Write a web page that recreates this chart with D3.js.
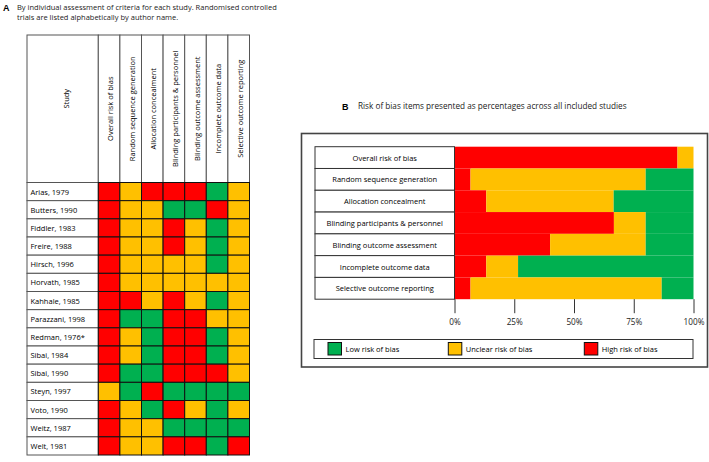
<!DOCTYPE html>
<html>
<head>
<meta charset="utf-8">
<script src="https://cdn.jsdelivr.net/npm/d3@7"></script>
<style>
  body { margin: 0; background: #fff; }
  svg { font-family: "Open Sans", Lato, sans-serif; }
</style>
</head>
<body>
<script>
// --- data -------------------------------------------------------------
const studies = ['Arias, 1979', 'Butters, 1990', 'Fiddler, 1983', 'Freire, 1988', 'Hirsch, 1996',
    'Horvath, 1985', 'Kahhale, 1985', 'Parazzani, 1998', 'Redman, 1976*', 'Sibai, 1984',
    'Sibai, 1990', 'Steyn, 1997', 'Voto, 1990', 'Weitz, 1987', 'Welt, 1981'];

const domains = ['Overall risk of bias', 'Random sequence generation', 'Allocation concealment',
    'Blinding participants & personnel', 'Blinding outcome assessment',
    'Incomplete outcome data', 'Selective outcome reporting'];

// H = high, U = unclear, L = low (one string per study, one letter per domain)
const judgements = ['HUHHHLU', 'HUULLHU', 'HUUHULU', 'HUUHULU', 'HUUUULU',
    'HUUUUUU', 'HHUHULU', 'HLLHHUU', 'HULHHLU', 'HULHHLU',
    'HLLHHHU', 'ULHLLLL', 'HULHULU', 'HUULLLL', 'HUUHHLH'];

// panel B: percentages per item
const highPct = [93.3, 6.7, 13.3, 66.7, 40, 13.3, 6.7];
const unclearPct = [6.7, 73.3, 53.3, 13.3, 40, 13.3, 80];
const lowPct = [0, 20, 33.4, 20, 20, 73.4, 13.3];
const xTicks = [0, 25, 50, 75, 100];

const legendLabels = ['Low risk of bias', 'Unclear risk of bias', 'High risk of bias'];
const colour = { L: '#00b050', U: '#ffc000', H: '#ff0000' };

const fs = 7.5;

// --- svg --------------------------------------------------------------
const svg = d3.select('body').append('svg')
    .attr('width', 709)
    .attr('height', 462);

// ===== panel A =====
svg.append('text').attr('x', 3).attr('y', 11)
    .attr('font-family', 'Liberation Sans, Arial, sans-serif')
    .attr('font-weight', 'bold').attr('font-size', 9).text('A');
svg.append('text').attr('x', 17).attr('y', 10).attr('font-size', fs)
    .attr('fill', '#222')
    .text('By individual assessment of criteria for each study. Randomised controlled');
svg.append('text').attr('x', 17).attr('y', 19.5).attr('font-size', fs)
    .attr('fill', '#222')
    .text('trials are listed alphabetically by author name.');

const tLeft = 27, tStudyRight = 98.3, tRight = 249.5;
const tTop = 35, tHeadBottom = 182.5, tBottom = 455;

const xcol = d3.scaleBand().domain(domains).range([tStudyRight, tRight]);
const yrow = d3.scaleBand().domain(studies).range([tHeadBottom, tBottom]);

const tableA = svg.append('g');

// header cells
tableA.append('rect')
    .attr('x', tLeft).attr('y', tTop)
    .attr('width', tStudyRight - tLeft).attr('height', tHeadBottom - tTop)
    .attr('fill', '#fff').attr('stroke', '#555');
tableA.append('text')
    .attr('transform', `translate(${(tLeft + tStudyRight) / 2 + 3}, ${(tTop + tHeadBottom) / 2 - 10}) rotate(-90)`)
    .attr('text-anchor', 'middle').attr('dominant-baseline', 'central')
    .attr('font-size', fs).text('Study');

tableA.selectAll('rect.head').data(domains).join('rect')
    .attr('class', 'head')
    .attr('x', (d) => xcol(d)).attr('y', tTop)
    .attr('width', xcol.bandwidth()).attr('height', tHeadBottom - tTop)
    .attr('fill', '#fff').attr('stroke', '#555');

tableA.selectAll('text.head').data(domains).join('text')
    .attr('class', 'head')
    .attr('transform', (d) => `translate(${xcol(d) + xcol.bandwidth() / 2 + 1}, ${(tTop + tHeadBottom) / 2}) rotate(-90)`)
    .attr('text-anchor', 'middle').attr('dominant-baseline', 'central')
    .attr('font-size', fs).text((d) => d);

// study label cells
tableA.selectAll('rect.study').data(studies).join('rect')
    .attr('class', 'study')
    .attr('x', tLeft).attr('y', (d) => yrow(d))
    .attr('width', tStudyRight - tLeft).attr('height', yrow.bandwidth())
    .attr('fill', '#fff').attr('stroke', '#555');

tableA.selectAll('text.study').data(studies).join('text')
    .attr('class', 'study')
    .attr('x', tLeft + 3.5).attr('y', (d) => yrow(d) + yrow.bandwidth() / 2)
    .attr('dominant-baseline', 'central')
    .attr('font-size', fs).text((d) => d);

// judgement cells
const cells = [];
studies.forEach((s, i) => {
    domains.forEach((dm, j) => {
        cells.push({ study: s, domain: dm, code: judgements[i][j] });
    });
});

tableA.selectAll('rect.cell').data(cells).join('rect')
    .attr('class', 'cell')
    .attr('x', (d) => xcol(d.domain)).attr('y', (d) => yrow(d.study))
    .attr('width', xcol.bandwidth()).attr('height', yrow.bandwidth())
    .attr('fill', (d) => colour[d.code])
    .attr('stroke', '#111').attr('stroke-width', 1);

// ===== panel B =====
svg.append('text').attr('x', 342).attr('y', 110)
    .attr('font-family', 'Liberation Sans, Arial, sans-serif')
    .attr('font-weight', 'bold').attr('font-size', 9).text('B');
svg.append('text').attr('x', 358).attr('y', 109).attr('font-size', 8.2)
    .attr('fill', '#222')
    .text('Risk of bias items presented as percentages across all included studies');

// outer frame
svg.append('rect')
    .attr('x', 301.5).attr('y', 133.5)
    .attr('width', 406).attr('height', 233.5)
    .attr('fill', '#fff').attr('stroke', '#444').attr('stroke-width', 1.6);

const labelLeft = 315, barLeft = 454.5, barRight = 693.5;
const xs = d3.scaleLinear().domain([0, 100]).range([barLeft, barRight]);
const ys = d3.scaleBand().domain(domains).range([146.7, 299.2]);

const groupB = svg.append('g');

// stacked bars
const stackRows = domains.map((d, i) => ({
    item: d,
    parts: [
        { code: 'H', x0: 0, x1: highPct[i] },
        { code: 'U', x0: highPct[i], x1: highPct[i] + unclearPct[i] },
        { code: 'L', x0: highPct[i] + unclearPct[i], x1: Math.min(100, highPct[i] + unclearPct[i] + lowPct[i]) }
    ]
}));

const rowG = groupB.selectAll('g.row').data(stackRows).join('g').attr('class', 'row');
rowG.selectAll('rect').data((d) => d.parts.map((p) => ({ ...p, item: d.item }))).join('rect')
    .attr('x', (d) => xs(d.x0))
    .attr('y', (d) => ys(d.item))
    .attr('width', (d) => Math.max(0, xs(d.x1) - xs(d.x0)))
    .attr('height', ys.bandwidth())
    .attr('fill', (d) => colour[d.code]);

// item label cells
groupB.selectAll('rect.lab').data(domains).join('rect')
    .attr('class', 'lab')
    .attr('x', labelLeft).attr('y', (d) => ys(d))
    .attr('width', barLeft - labelLeft).attr('height', ys.bandwidth())
    .attr('fill', '#fff').attr('stroke', '#333');

groupB.selectAll('text.lab').data(domains).join('text')
    .attr('class', 'lab')
    .attr('x', (labelLeft + barLeft) / 2).attr('y', (d) => ys(d) + ys.bandwidth() / 2)
    .attr('text-anchor', 'middle').attr('dominant-baseline', 'central')
    .attr('font-size', fs).text((d) => d);

// x axis: ticks only
const xaxis = d3.axisBottom(xs).tickValues(xTicks)
    .tickFormat((d) => d + '%').tickSize(14).tickPadding(6);
const g_xaxis = groupB.append('g')
    .attr('transform', `translate(0, ${ys.range()[1]})`)
    .call(xaxis);
g_xaxis.select('.domain').remove();
g_xaxis.selectAll('line').attr('stroke', '#333');
g_xaxis.selectAll('text').attr('font-size', 8.2).attr('fill', '#222')
    .attr('font-family', '"Open Sans", sans-serif');

// legend
const legendG = groupB.append('g');
legendG.append('rect')
    .attr('x', 314).attr('y', 339.5).attr('width', 379).attr('height', 19)
    .attr('fill', '#fff').attr('stroke', '#333');
const legendX = d3.scaleOrdinal().domain(legendLabels).range([328, 448.3, 584.3]);
const legendCol = d3.scaleOrdinal().domain(legendLabels).range([colour.L, colour.U, colour.H]);
legendG.selectAll('rect.sw').data(legendLabels).join('rect')
    .attr('class', 'sw')
    .attr('x', (d) => legendX(d)).attr('y', 342.5)
    .attr('width', 13.5).attr('height', 12.5)
    .attr('fill', (d) => legendCol(d)).attr('stroke', '#111');
legendG.selectAll('text').data(legendLabels).join('text')
    .attr('x', (d) => legendX(d) + 17.5).attr('y', 349)
    .attr('dominant-baseline', 'central')
    .attr('font-size', fs).text((d) => d);
</script>
</body>
</html>
